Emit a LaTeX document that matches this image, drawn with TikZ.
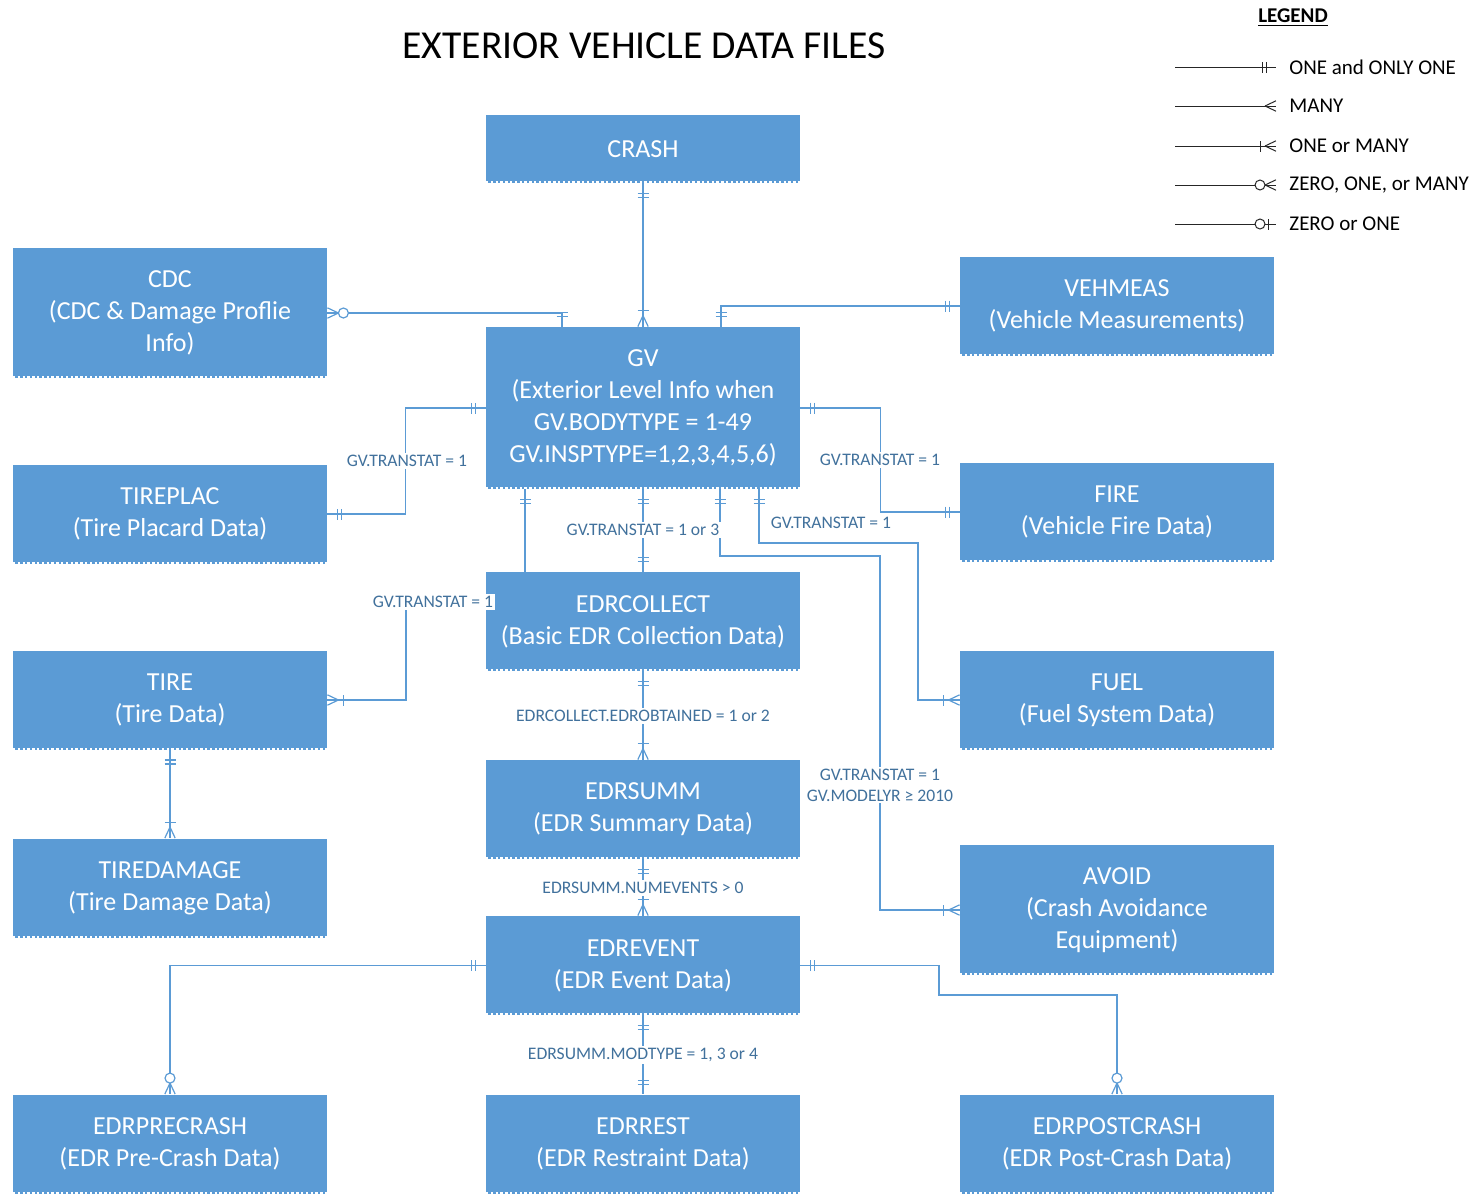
\documentclass[tikz,border=0pt]{standalone}
\usepackage{fontspec}
\setmainfont{Carlito}
\usepackage{tikz}
\usetikzlibrary{calc,decorations.markings}

\definecolor{boxblue}{HTML}{5B9BD5}
\definecolor{lineblue}{HTML}{5B9BD5}
\definecolor{labelblue}{HTML}{41719C}
\definecolor{legendgray}{HTML}{262626}

\newcommand{\mkone}{\draw (5pt,-2.75pt) -- (5pt,2.75pt) (7pt,-2.75pt) -- (7pt,2.75pt);}
\newcommand{\mkmany}{\draw (5.5pt,0) -- (0,2.6pt) (5.5pt,0) -- (0,-2.6pt);}
\newcommand{\mkonemany}{\mkmany\draw (8pt,-2.75pt) -- (8pt,2.75pt);}
\newcommand{\mkzeromany}{\mkmany\draw[fill=white] (8pt,0) circle (2.5pt);}
\newcommand{\mkzeroone}{\draw (4pt,-2.75pt) -- (4pt,2.75pt);\draw[fill=white] (8pt,0) circle (2.5pt);}

\tikzset{
  ent/.style={rectangle, fill=boxblue, text=white, inner sep=0pt,
    minimum width=157pt, minimum height=49.5pt, align=center,
    font=\fontsize{13}{16}\selectfont,
    path picture={\draw[white, line width=0.8pt, dash pattern=on 1.2pt off 1.2pt]
      ([yshift=0.4pt]path picture bounding box.south west) -- ([yshift=0.4pt]path picture bounding box.south east);}},
  rel/.style={draw, color=lineblue, line width=0.6pt},
  cond/.style={fill=white, text=labelblue, inner sep=1pt, align=center,
    font=\fontsize{8.8}{10.5}\selectfont},
  lgdline/.style={draw, color=legendgray, line width=0.5pt},
  lgdtext/.style={anchor=west, inner sep=0pt, font=\fontsize{10.5}{12}\selectfont},
  srcmark/.style={postaction={decorate, decoration={markings, mark=at position 0 with {#1}}}},
  dstmark/.style={postaction={decorate, decoration={markings, mark=at position 1 with {\begin{scope}[xscale=-1]#1\end{scope}}}}}
}

\begin{document}
\begin{tikzpicture}[x=0.5pt, y=-0.5pt]
\useasboundingbox (0,0) rectangle (1481,1195);

\node[font=\fontsize{19.8}{23}\selectfont] (title) at (644,46) {EXTERIOR VEHICLE DATA FILES};

\node[ent, minimum height=34pt] (crash) at (643,149) {CRASH};
\node[ent, minimum height=65pt] (cdc) at (170,313) {CDC\\(CDC \& Damage Proflie\\Info)};
\node[ent, minimum height=81pt] (gv) at (643,408) {GV\\(Exterior Level Info when\\GV.BODYTYPE = 1-49\\GV.INSPTYPE=1,2,3,4,5,6)};
\node[ent] (vehmeas) at (1117,306) {VEHMEAS\\(Vehicle Measurements)};
\node[ent] (tireplac) at (170,514) {TIREPLAC\\(Tire Placard Data)};
\node[ent] (fire) at (1117,512) {FIRE\\(Vehicle Fire Data)};
\node[ent] (edrcollect) at (643,621.5) {EDRCOLLECT\\(Basic EDR Collection Data)};
\node[ent] (tire) at (170,700) {TIRE\\(Tire Data)};
\node[ent] (fuel) at (1117,700) {FUEL\\(Fuel System Data)};
\node[ent] (edrsumm) at (643,809.5) {EDRSUMM\\(EDR Summary Data)};
\node[ent] (tiredamage) at (170,888) {TIREDAMAGE\\(Tire Damage Data)};
\node[ent, minimum height=65pt] (avoid) at (1117,910) {AVOID\\(Crash Avoidance\\Equipment)};
\node[ent] (edrevent) at (643,965.5) {EDREVENT\\(EDR Event Data)};
\node[ent] (edrprecrash) at (170,1144) {EDRPRECRASH\\(EDR Pre-Crash Data)};
\node[ent] (edrrest) at (643,1144) {EDRREST\\(EDR Restraint Data)};
\node[ent] (edrpostcrash) at (1117,1144) {EDRPOSTCRASH\\(EDR Post-Crash Data)};

\draw[rel, srcmark=\mkone, dstmark=\mkonemany] (crash.south) -- (gv.north);
\draw[rel, srcmark=\mkzeromany, dstmark=\mkone] (cdc.east) -| ($(gv.north)+(-81,0)$);
\draw[rel, srcmark=\mkone, dstmark=\mkone] (vehmeas.west) -| ($(gv.north)+(78,0)$);
\draw[rel, srcmark=\mkone, dstmark=\mkone] (tireplac.east) -| ($(gv.west)+(-80,0)$) -- (gv.west);
\draw[rel, srcmark=\mkone, dstmark=\mkone] (fire.west) -| ($(gv.east)+(80,0)$) -- (gv.east);
\draw[rel, srcmark=\mkonemany, dstmark=\mkone] (tire.east) -| (406,602) -| ($(gv.south)+(-118,0)$);
\draw[rel, srcmark=\mkone, dstmark=\mkone] (gv.south) -- (edrcollect.north);
\draw[rel, srcmark=\mkone, dstmark=\mkonemany] ($(gv.south)+(77,0)$) |- (880,556) |- (avoid.west);
\draw[rel, srcmark=\mkone, dstmark=\mkonemany] ($(gv.south)+(116,0)$) |- (918,543) |- (fuel.west);
\draw[rel, srcmark=\mkone, dstmark=\mkonemany] (edrcollect.south) -- (edrsumm.north);
\draw[rel, srcmark=\mkone, dstmark=\mkonemany] (edrsumm.south) -- (edrevent.north);
\draw[rel, srcmark=\mkone, dstmark=\mkone] (edrevent.south) -- (edrrest.north);
\draw[rel, srcmark=\mkone, dstmark=\mkzeromany] (edrevent.west) -| (edrprecrash.north);
\draw[rel, srcmark=\mkone, dstmark=\mkzeromany] (edrevent.east) -| (939,995) -| (edrpostcrash.north);
\draw[rel, srcmark=\mkone, dstmark=\mkonemany] (tire.south) -- (tiredamage.north);

\node[cond] (lbl1) at (407,461) {GV.TRANSTAT = 1};
\node[cond] (lbl2) at (880,460) {GV.TRANSTAT = 1};
\node[cond] (lbl3) at (643,530) {GV.TRANSTAT = 1 or 3};
\node[cond] (lbl4) at (831,523) {GV.TRANSTAT = 1};
\node[cond] (lbl5) at (433,602) {GV.TRANSTAT = 1};
\node[cond] (lbl6) at (643,716) {EDRCOLLECT.EDROBTAINED = 1 or 2};
\node[cond] (lbl7) at (880,785) {GV.TRANSTAT = 1\\GV.MODELYR ≥ 2010};
\node[cond] (lbl8) at (643,888) {EDRSUMM.NUMEVENTS > 0};
\node[cond] (lbl9) at (643,1055) {EDRSUMM.MODTYPE = 1, 3 or 4};

\node[font=\fontsize{10.5}{12}\selectfont\bfseries] (lgdtitle) at (1293,18) {\underline{LEGEND}};
\foreach \y/\txt/\m in {67/ONE and ONLY ONE/\mkone, 106/MANY/\mkmany, 146/ONE or MANY/\mkonemany,
    185/{ZERO, ONE, or MANY}/\mkzeromany, 224/ZERO or ONE/\mkzeroone}{
  \node[lgdtext] (lgd\y) at (1289,\y) {\txt};
  \draw[lgdline, dstmark=\m] ($(lgd\y.west)+(-114,0)$) -- ($(lgd\y.west)+(-13,0)$);
}
\end{tikzpicture}
\end{document}
